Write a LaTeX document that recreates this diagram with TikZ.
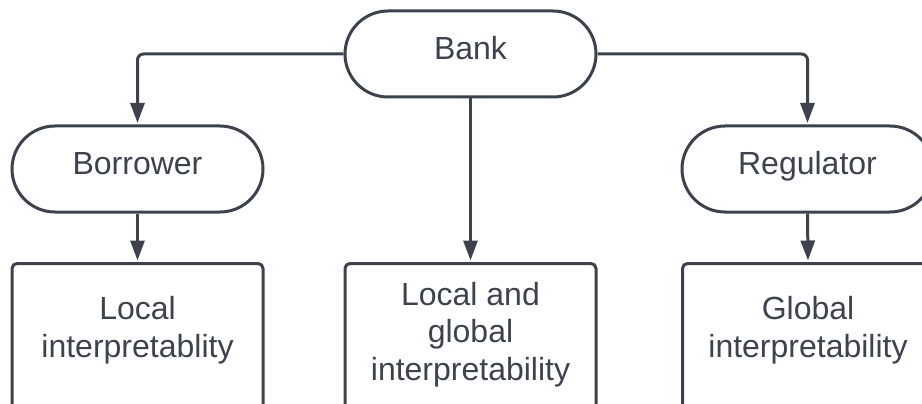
\documentclass[tikz,border=0pt]{standalone}
\usepackage{fontspec}
\setmainfont{Liberation Sans}
\usetikzlibrary{arrows.meta}
\definecolor{ink}{HTML}{3D434C}
\begin{document}
\begin{tikzpicture}[x=1pt,y=-1pt,
  txtfont/.style={font=\fontsize{32}{37.5}\selectfont},
  term/.style={draw=ink, line width=3pt, rounded corners=43pt,
    minimum width=251pt, minimum height=86pt, inner sep=0pt,
    text=ink, txtfont, text height=22pt, text depth=10pt},
  box/.style={draw=ink, line width=3pt, rounded corners=5pt,
    minimum width=251pt, minimum height=150pt, inner sep=0pt, anchor=north},
  lbl/.style={text=ink, txtfont, align=center, inner sep=0pt, anchor=base},
  link/.style={draw=ink, line width=3pt, rounded corners=6pt,
    -{Triangle[length=20pt,width=14pt]}, shorten >=1.5pt}
]
\useasboundingbox (0,0) rectangle (922,404);

\node[term] (bank) at (470.5,54) {Bank};
\node[term] (borrower) at (137.5,169) {Borrower};
\node[term] (regulator) at (807.5,169) {Regulator};

\node[box] (localbox) at (137.5,262) {};
\node[box] (middlebox) at (470.5,262) {};
\node[box] (globalbox) at (808,262) {};

\node[lbl] (localtxt) at (137.5,357) {Local\\interpretablity};
\node[lbl] (middletxt) at (470.5,380) {Local and\\global\\interpretability};
\node[lbl] (globaltxt) at (808,357) {Global\\interpretability};

\draw[link] (bank.west) -| (borrower.north);
\draw[link] (bank.east) -| (regulator.north);
\draw[link] (bank.south) -- (middlebox.north);
\draw[link] (borrower.south) -- (localbox.north);
\draw[link] (regulator.south) -- (globalbox.north);
\end{tikzpicture}
\end{document}
